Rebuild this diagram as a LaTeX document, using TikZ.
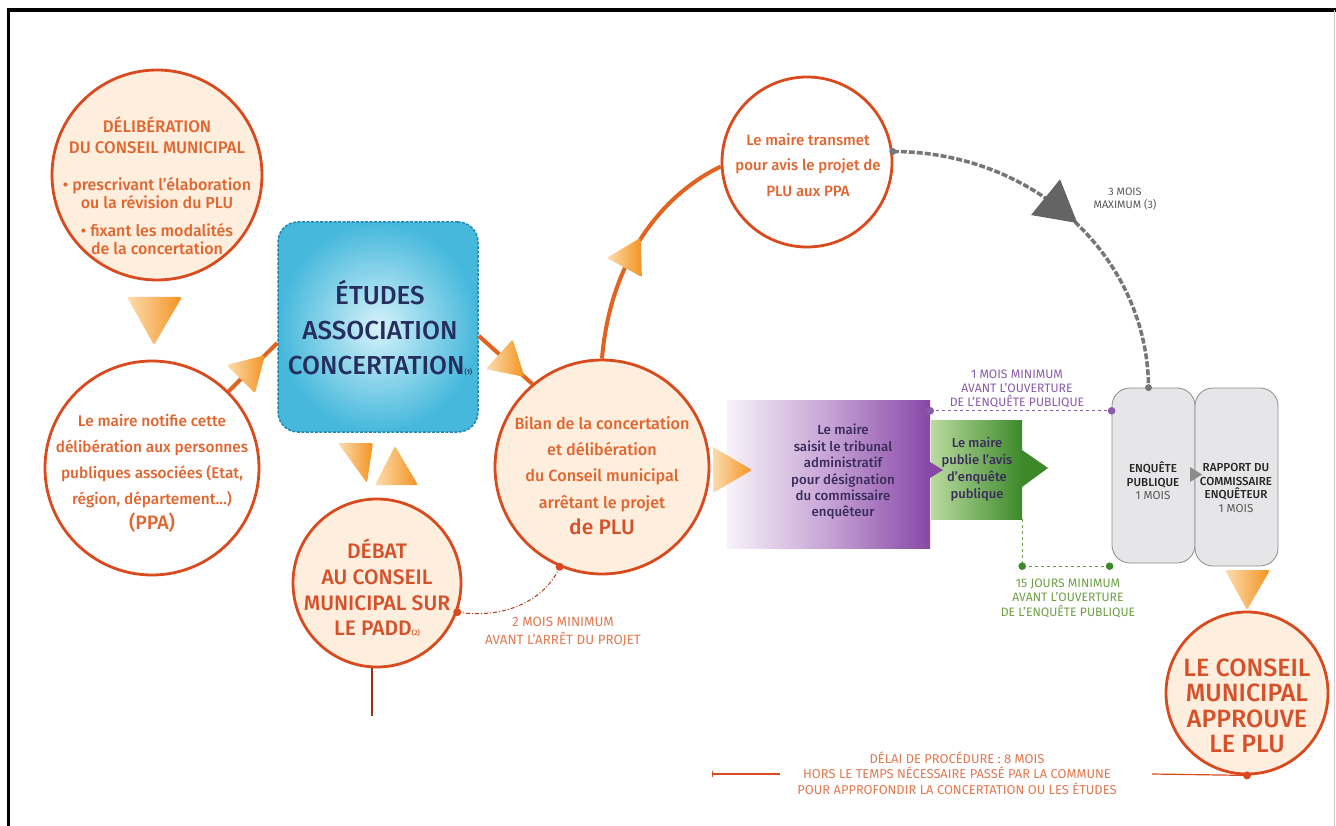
\documentclass[tikz,border=0pt]{standalone}
\usepackage{fontspec}
\setmainfont{Fira Sans}[BoldFont={Fira Sans Medium}]
\usetikzlibrary{decorations.markings,calc}
\definecolor{cred}{HTML}{D94A1E}
\definecolor{cline}{HTML}{E2621F}
\definecolor{cream}{HTML}{FDEEDD}
\definecolor{torange}{HTML}{E2652F}
\definecolor{tred}{HTML}{D6502A}
\definecolor{tipA}{HTML}{FCDDB0}
\definecolor{tipB}{HTML}{F39320}
\definecolor{navy}{HTML}{252E5E}
\definecolor{cyanA}{HTML}{D6F2FA}
\definecolor{cyanB}{HTML}{45B8DC}
\definecolor{cyanD}{HTML}{1F86B0}
\definecolor{purA}{HTML}{F7F2F9}
\definecolor{purM}{HTML}{C6A3D5}
\definecolor{purB}{HTML}{8747A6}
\definecolor{purT}{HTML}{8A5BA8}
\definecolor{ptext}{HTML}{3A2D5C}
\definecolor{grA}{HTML}{BADB9F}
\definecolor{grB}{HTML}{3D892A}
\definecolor{grT}{HTML}{6F9F45}
\definecolor{boxg}{HTML}{E6E6E8}
\definecolor{boxd}{HTML}{8C8C8C}
\definecolor{greyc}{HTML}{767676}
\definecolor{lbl}{HTML}{E27A52}
\begin{document}
\begin{tikzpicture}[x=1pt,y=-1pt,
  circ/.style={circle,draw=cred,line width=2.8pt,inner sep=0pt},
  txt/.style={inner sep=0pt,align=center},
  etudesbox/.style={rectangle,rounded corners=20pt,inner color=cyanA,outer color=cyanB,draw=cyanD,line width=1.5pt,dash pattern=on 3pt off 1.5pt,inner sep=0pt},
  greybox/.style={rectangle,rounded corners=18pt,fill=boxg,draw=boxd,line width=0.8pt,inner sep=0pt},
  tri/.style={left color=tipA,right color=tipB,rounded corners=2pt},
  oline/.style={draw=cline,line width=4pt},
  gline/.style={draw=greyc,line width=3.5pt,dash pattern=on 6pt off 2pt},
  ddline/.style={draw=cred!80!black,line width=1pt,dash pattern=on 4pt off 2pt on 1pt off 2pt},
  thinline/.style={draw=cred,line width=1.2pt},
  otip/.style={postaction={decorate,decoration={markings,mark=at position #1 with {\shade[left color=tipA,right color=tipB,rounded corners=1.5pt] (17,0) -- (-17,20) -- (-17,-20) -- cycle;}}}},
  gtip/.style={postaction={decorate,decoration={markings,mark=at position #1 with {\fill[greyc!85!black] (21,0) -- (-20,23) -- (-20,-23) -- cycle;}}}}
]
\fill[white] (0,0) rectangle (1336,826);
\useasboundingbox (0,0) rectangle (1336,826);
\draw[line width=3.5pt] (8.5,826) -- (8.5,10) -- (1336,10);
\draw[gray!40,line width=1pt] (1334.5,10) -- (1334.5,826);

% nodes
\node[circ,fill=cream,minimum size=210pt] (c1) at (157,175) {};
\node[circ,fill=white,minimum size=214pt] (c2) at (152,468) {};
\node[etudesbox,minimum width=200pt,minimum height=210pt] (etudes) at (378,327) {};
\node[circ,fill=cream,minimum size=168pt] (debat) at (377,583) {};
\node[circ,fill=cream,minimum size=214pt] (bilan) at (602,467) {};
\node[circ,fill=white,minimum size=170pt] (transmet) at (807,162) {};
\node[inner sep=0pt,minimum width=203pt,minimum height=148pt,left color=purA,right color=purB,middle color=purM] (saisit) at (828.5,474) {};
\node[inner sep=0pt,minimum width=91pt,minimum height=99pt,left color=grA,right color=grB] (publie) at (976.5,469.5) {};
\node[greybox,minimum width=83pt,minimum height=175pt] (enquete) at (1153.5,475.5) {};
\node[greybox,minimum width=83pt,minimum height=178pt] (rapport) at (1236.5,477) {};
\node[circ,fill=cream,minimum size=162pt] (conseil) at (1247,693) {};

% connectors
\draw[oline,otip=0.5] (c2.45) -- (etudes.189);
\draw[oline,otip=0.62] (etudes.-5) -- (bilan.130);
\draw[oline,otip=0.47] (bilan.north) .. controls (610,262) and (660,196) .. (transmet.183);
\draw[gline,gtip=0.47] (transmet.7) .. controls (1040,152) and (1148,262) .. ([xshift=-5pt]enquete.north);
\fill[greyc] (transmet.7) circle (3.5pt);
\fill[greyc] ([xshift=-5pt]enquete.north) circle (3.5pt);
\draw[ddline] (debat.-20) .. controls (512,620) and (548,595) .. (bilan.-113);
\fill[cred] (debat.-20) circle (4pt);
\fill[cred] (bilan.-113) circle (4pt);
\draw[thinline,draw=cred!70!black] ([xshift=-5pt]debat.south) -- ++(0,48) coordinate (padd);

\coordinate (pA) at ([yshift=-11pt]saisit.north east);
\coordinate (pB) at (enquete.west |- pA);
\draw[purT,dashed,line width=1.3pt] (pA) -- (pB);
\fill[purT] (pA) circle (3.8pt);
\fill[purT] (pB) circle (3.8pt);

\coordinate (gA) at ([yshift=-47pt]publie.south east);
\coordinate (gB) at ([xshift=-2pt]enquete.west |- gA);
\draw[grT,dashed,line width=1.3pt] (publie.south east) -- (gA) -- (gB) -- ([xshift=-2pt]enquete.south west);
\fill[grB] (gA) circle (3.8pt);
\fill[grB] (gB) circle (3.8pt);

% arrow triangles
\shade[tri] (127,297) -- (182,297) -- (154,345) -- cycle;
\shade[tri] (338,443) -- (373,443) -- (367,483) -- cycle;
\shade[tri] (395,446) -- (418,485) -- (375,485) -- cycle;
\shade[tri] (713,447) -- (752,470) -- (713,493) -- cycle;
\shade[tri] (1225,570) -- (1270,570) -- (1247,610) -- cycle;
\fill[purB] (930,462) -- (943,470) -- (930,478) -- cycle;
\fill[grB] (1022,450) -- (1048,468) -- (1022,487) -- cycle;
\fill[boxd] (1190,467) -- (1202,474.5) -- (1190,482) -- cycle;

% bottom line
\coordinate (dL) at (712,774);
\coordinate (dR) at (1152,774);
\draw[thinline] (conseil.south) -- (dR);
\draw[thinline] (dL) -- ++(68,0);
\draw[thinline,line width=0.8pt] ([yshift=3pt]dL) -- ([yshift=-3pt]dL);
\fill[cred] (conseil.south) circle (4pt);

% texts
\node[txt,text=torange,font=\bfseries\fontsize{16.8}{21}\selectfont] (c1h) at (157,135) {DÉLIBÉRATION\\DU CONSEIL MUNICIPAL};
\node[txt,text=torange,font=\bfseries\fontsize{16}{18.5}\selectfont] (c1b) at (157,216) {• prescrivant l’élaboration\\ou la révision du PLU\\[9pt]• fixant les modalités\\de la concertation};
\node[txt,text=torange,font=\bfseries\fontsize{15.4}{26}\selectfont] (c2t) at (152,461) {Le maire notifie cette\\délibération aux personnes\\publiques associées (Etat,\\région, département…)};
\node[txt,text=torange,font=\bfseries\fontsize{19.5}{19.5}\selectfont] (c2p) at (152,523) {(PPA)};
\node[txt,text=navy,font=\bfseries\fontsize{26}{35}\selectfont] (etudest) at (380,328) {ÉTUDES\\ASSOCIATION\\CONCERTATION{\fontsize{7}{7}\selectfont(1)}};
\node[txt,text=tred,font=\bfseries\fontsize{21}{25.7}\selectfont] (debatt) at (377,588) {DÉBAT\\AU CONSEIL\\MUNICIPAL SUR\\LE PADD{\fontsize{7}{7}\selectfont(2)}};
\node[txt,text=torange,font=\bfseries\fontsize{16.2}{26.3}\selectfont] (bilant) at (602,464) {Bilan de la concertation\\et délibération\\du Conseil municipal\\arrêtant le projet};
\node[txt,text=tred,font=\bfseries\fontsize{21}{21}\selectfont] (bilanp) at (602,527) {de PLU};
\node[txt,text=torange,font=\bfseries\fontsize{15}{25.5}\selectfont] (transmett) at (808,165) {Le maire transmet\\pour avis le projet de\\PLU aux PPA};
\node[txt,text=ptext,font=\bfseries\fontsize{13.3}{16.4}\selectfont] (saisitt) at (843,472) {Le maire\\saisit le tribunal\\administratif\\pour désignation\\du commissaire\\enquêteur};
\node[txt,text=ptext,font=\bfseries\fontsize{13}{17}\selectfont] (publiet) at (977,469) {Le maire\\publie l’avis\\d’enquête\\publique};
\node[txt,text=black!85,font=\bfseries\fontsize{11.6}{13.4}\selectfont] (enquetet) at (1153,481) {ENQUÊTE\\PUBLIQUE\\{\mdseries\color{black!65}1 MOIS}};
\node[txt,text=black!85,font=\bfseries\fontsize{11.6}{13.4}\selectfont] (rapportt) at (1236,488) {RAPPORT DU\\COMMISSAIRE\\ENQUÊTEUR\\{\mdseries\color{black!65}1 MOIS}};
\node[txt,text=tred,font=\bfseries\fontsize{25}{25.5}\selectfont] (conseilt) at (1247,706) {LE CONSEIL\\MUNICIPAL\\APPROUVE\\LE PLU};

\node[txt,text=purT,font=\fontsize{12.2}{14}\selectfont] (l1) at (1017,389) {1 MOIS MINIMUM\\AVANT L’OUVERTURE\\DE L’ENQUÊTE PUBLIQUE};
\node[txt,text=grT,font=\fontsize{12.2}{14.5}\selectfont] (l15) at (1068,598) {15 JOURS MINIMUM\\AVANT L’OUVERTURE\\DE L’ENQUÊTE PUBLIQUE};
\node[txt,text=black!65,font=\fontsize{10.8}{13}\selectfont] (l3) at (1125,199) {3 MOIS\\MAXIMUM (3)};
\node[txt,text=lbl,font=\fontsize{13.4}{18}\selectfont] (l2) at (563,632) {2 MOIS MINIMUM\\AVANT L’ARRÊT DU PROJET};
\node[txt,text=lbl,font=\fontsize{12.9}{15.5}\selectfont] (delai) at (957,773) {DÉLAI DE PROCÉDURE : 8 MOIS\\HORS LE TEMPS NÉCESSAIRE PASSÉ PAR LA COMMUNE\\POUR APPROFONDIR LA CONCERTATION OU LES ÉTUDES};
\end{tikzpicture}
\end{document}
